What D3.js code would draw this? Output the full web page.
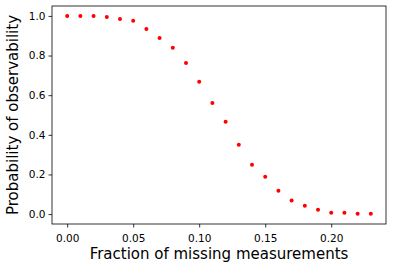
<!DOCTYPE html>
<html><head><meta charset="utf-8">
<script src="https://cdn.jsdelivr.net/npm/d3@7"></script>
<style>body{margin:0;background:#fff}svg{display:block}</style>
</head><body><svg id="c" width="394" height="270"></svg>
<script>
const fractions = [0.00,0.01,0.02,0.03,0.04,0.05,0.06,0.07,0.08,0.09,0.10,0.11,0.12,0.13,0.14,0.15,0.16,0.17,0.18,0.19,0.20,0.21,0.22,0.23];
const probabilities = [1.0,1.0,1.0,0.995,0.985,0.975,0.934,0.889,0.839,0.763,0.668,0.561,0.466,0.350,0.249,0.189,0.118,0.068,0.042,0.022,0.007,0.007,0.002,0.002];
const xTicks = [0.00,0.05,0.10,0.15,0.20];
const yTicks = [0.0,0.2,0.4,0.6,0.8,1.0];

const svg = d3.select("#c");
const L=52, R=386, T=6, B=224;
const x = d3.scaleLinear().domain([-0.0115,0.2415]).range([L,R]);
const y = d3.scaleLinear().domain([-0.05,1.05]).range([B,T]);
const font = "DejaVu Sans, sans-serif";

const xa = svg.append("g").attr("transform",`translate(0,${B})`)
  .call(d3.axisBottom(x).tickValues(xTicks).tickFormat(d3.format(".2f")).tickSize(3.5).tickPadding(7));
const ya = svg.append("g").attr("transform",`translate(${L},0)`)
  .call(d3.axisLeft(y).tickValues(yTicks).tickFormat(d3.format(".1f")).tickSize(3.5).tickPadding(3));
[xa,ya].forEach(a=>{a.select(".domain").remove();a.selectAll("text").attr("font-family",font).attr("font-size",10.5).attr("fill","#000");a.selectAll("line").attr("stroke","#000").attr("stroke-width",0.8);});

svg.append("rect").attr("x",L).attr("y",T).attr("width",R-L).attr("height",B-T)
  .attr("fill","none").attr("stroke","#000").attr("stroke-width",0.8);

svg.append("g").selectAll("circle").data(fractions).join("circle")
  .attr("cx",d=>x(d)).attr("cy",(d,i)=>y(probabilities[i])).attr("r",2).attr("fill","#ff0000");

svg.append("text").attr("x",(L+R)/2).attr("y",259).attr("text-anchor","middle")
  .attr("font-family",font).attr("font-size",15).attr("fill","#000").text("Fraction of missing measurements");
svg.append("text").attr("transform",`translate(18,${(T+B)/2}) rotate(-90)`).attr("text-anchor","middle")
  .attr("font-family",font).attr("font-size",15).attr("fill","#000").text("Probability of observability");
</script></body></html>
